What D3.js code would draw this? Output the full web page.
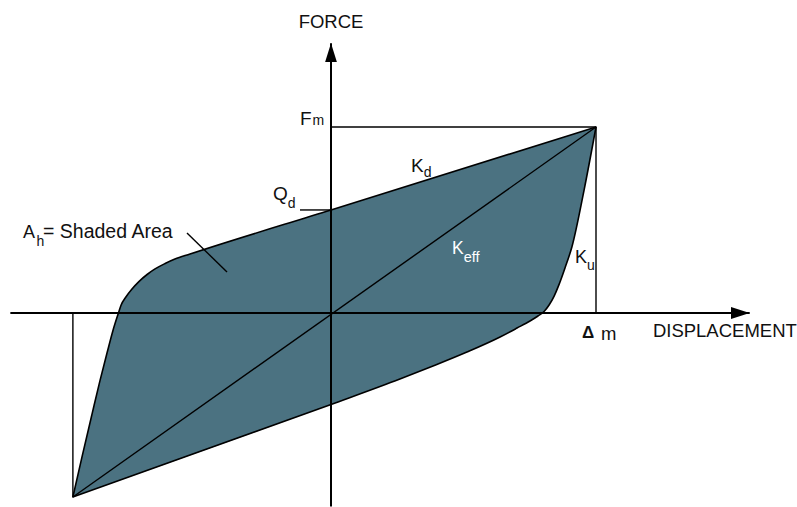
<!DOCTYPE html>
<html>
<head>
<meta charset="utf-8">
<script src="https://cdn.jsdelivr.net/npm/d3@7"></script>
<style>
  body { margin: 0; background: #fff; }
  svg { display: block; font-family: "Liberation Sans", Arial, Helvetica, sans-serif; }
</style>
</head>
<body>
<svg id="chart"></svg>
<script>
// peak point of the loop (normalised so that delta_m = F_m = 1)
var dispMax = 1;
var forceMax = 1;
// opposite peak
var dispMin = -0.974;
var forceMin = -0.989;
// characteristic strength Qd (force at zero displacement)
var qd = 0.554;
// how far the two axes reach
var dispAxis = [-1.21, 1.58];
var forceAxis = [-1.04, 1.45];

// unloading branch, from the right tip down to the left tip
var unloadDisp = [1, 0, -0.532, -0.589, -0.626, -0.664, -0.694, -0.725, -0.751, -0.774, -0.792, -0.802, -0.823, -0.845, -0.872, -0.902, -0.940, -0.974];
var unloadForce = [1, 0.554, 0.317, 0.290, 0.266, 0.237, 0.207, 0.169, 0.129, 0.086, 0.043, 0, -0.095, -0.214, -0.365, -0.545, -0.776, -0.989];
// loading branch, from the left tip back up to the right tip
var loadDisp = [-0.974, 0, 0.260, 0.385, 0.513, 0.638, 0.702, 0.751, 0.781, 0.804, 0.823, 0.842, 0.860, 0.883, 0.909, 0.955, 1];
var loadForce = [-0.989, -0.492, -0.355, -0.285, -0.210, -0.129, -0.081, -0.043, -0.016, 0.008, 0.043, 0.091, 0.151, 0.242, 0.355, 0.661, 1];

var width = 797;
var height = 507;
var fillColor = "#4b7281";

var svg = d3.select("#chart").attr("width", width).attr("height", height);

// one unit of displacement / force in pixels, origin where the axes cross
var x = d3.scaleLinear().domain([0, 1]).range([331, 596]);
var y = d3.scaleLinear().domain([0, 1]).range([313, 127]);

// arrow heads for the two axes
var defs = svg.append("defs");
defs.append("marker")
  .attr("id", "arrow")
  .attr("viewBox", "0 0 19 12")
  .attr("refX", 19)
  .attr("refY", 6)
  .attr("markerWidth", 19)
  .attr("markerHeight", 12)
  .attr("markerUnits", "userSpaceOnUse")
  .attr("orient", "auto")
  .append("path")
  .attr("d", "M0,0L19,6L0,12Z")
  .attr("fill", "black");

// zip the branch arrays into points
var unload = unloadDisp.map((d, i) => [d, unloadForce[i]]);
var load = loadDisp.map((d, i) => [d, loadForce[i]]);

// each branch is monotone in x, so a monotone curve keeps the straight parts straight
var line = d3.line()
  .x(d => x(d[0]))
  .y(d => y(d[1]))
  .curve(d3.curveMonotoneX);

var loopPath = line(unload) + line(load).replace("M", "L") + "Z";

// shaded area
svg.append("path")
  .attr("d", loopPath)
  .attr("fill", fillColor)
  .attr("stroke", "none");

// axes
svg.append("line")
  .attr("x1", x(dispAxis[0]))
  .attr("x2", x(dispAxis[1]))
  .attr("y1", y(0))
  .attr("y2", y(0))
  .attr("stroke", "black")
  .attr("stroke-width", 2)
  .attr("marker-end", "url(#arrow)");
svg.append("line")
  .attr("x1", x(0))
  .attr("x2", x(0))
  .attr("y1", y(forceAxis[0]))
  .attr("y2", y(forceAxis[1]))
  .attr("stroke", "black")
  .attr("stroke-width", 2)
  .attr("marker-end", "url(#arrow)");

// thin guide lines
var guides = [
  [[0, forceMax], [dispMax, forceMax]],      // F_m level
  [[dispMax, forceMax], [dispMax, 0]],       // drop to delta_m
  [[dispMin, 0], [dispMin, forceMin]],       // drop at the negative tip
  [[-0.117, qd], [0, qd]],                   // Q_d tick
  [[dispMin, forceMin], [dispMax, forceMax]] // K_eff secant
];
svg.selectAll(".guide")
  .data(guides)
  .enter()
  .append("line")
  .classed("guide", true)
  .attr("x1", d => x(d[0][0]))
  .attr("y1", d => y(d[0][1]))
  .attr("x2", d => x(d[1][0]))
  .attr("y2", d => y(d[1][1]))
  .attr("stroke", "black")
  .attr("stroke-width", 1.4);

// loop outline
svg.append("path")
  .attr("d", loopPath)
  .attr("fill", "none")
  .attr("stroke", "black")
  .attr("stroke-width", 1.6)
  .attr("stroke-linejoin", "round");

// leader from the A_h label into the loop
svg.append("line")
  .attr("x1", 187).attr("y1", 233)
  .attr("x2", 227).attr("y2", 272)
  .attr("stroke", "black")
  .attr("stroke-width", 1.4);

// text helper: main text plus an optional smaller subscript
function label(px, py, main, sub, opt) {
  opt = opt || {};
  var size = opt.size || 18;
  var color = opt.color || "#111";
  var t = svg.append("text")
    .attr("x", px)
    .attr("y", py)
    .attr("font-size", size)
    .attr("fill", color)
    .attr("font-weight", opt.weight || "normal")
    .attr("text-anchor", opt.anchor || "start")
    .text(main);
  if (sub) {
    var w = t.node().getComputedTextLength();
    svg.append("text")
      .attr("x", px + w + (opt.gap || 0))
      .attr("y", py + (opt.drop === undefined ? 8 : opt.drop))
      .attr("font-size", opt.subSize || 14)
      .attr("fill", color)
      .text(sub);
  }
}

label(x(0), y(forceAxis[1]) - 15, "FORCE", null, { anchor: "middle", size: 18.5 });
label(x(dispMin) + 580, y(0) + 24, "DISPLACEMENT", null, { size: 18.5 });
label(x(0) - 31, y(forceMax) - 2.5, "F", "m", { drop: 0, gap: 1, size: 19 });
label(x(0) - 58, y(qd) - 10, "Q", "d", { drop: 8, gap: 0, size: 19 });
label(411, 172, "K", "d", { drop: 5, size: 19 });
label(452, 254, "K", "eff", { size: 17.5, subSize: 14.5, color: "#fff", drop: 8 });
label(575, 263, "K", "u", { drop: 7 });
label(x(dispMax) - 14, y(0) + 25, "\u0394", null, { size: 17, weight: "bold" });
label(x(dispMax) + 5, y(0) + 27, "m", null, { size: 18.5 });
label(23, 237.7, "A", "h", { drop: 8.5, gap: 1.5 });
label(43, 237.7, "= Shaded Area", null, { size: 19.5 });
</script>
</body>
</html>
